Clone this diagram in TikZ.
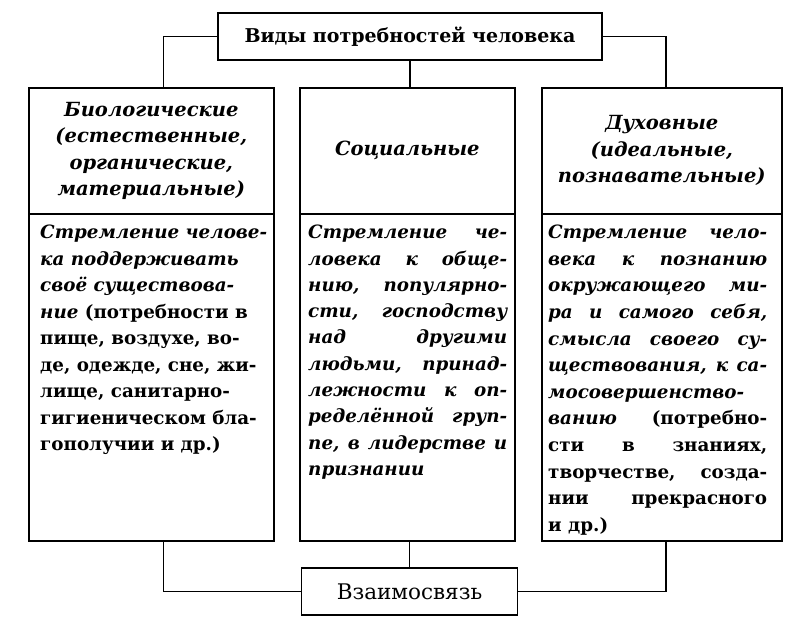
\documentclass[tikz,border=0pt]{standalone}
\usepackage{fontspec}
\setmainfont{DejaVu Serif}
\newlength\jw
\newcommand{\jline}[1]{\hbox to \jw{#1}}
\newcommand{\lline}[1]{\hbox to \jw{#1\hfil}}
\begin{document}
\begin{tikzpicture}[x=1pt,y=-1pt]
\tikzset{
  box/.style={draw, line width=1.6pt, inner sep=0pt},
  conn/.style={line width=1.5pt},
  hdr/.style={align=center, font=\fontsize{19.5}{26.5}\selectfont\bfseries\itshape},
  body/.style={inner sep=0pt, anchor=north west, font=\fontsize{18.3}{26.5}\selectfont\bfseries}
}
\useasboundingbox (0,0) rectangle (807,621);
\fill[white] (0,0) rectangle (807,621);
% title
\node[box, minimum width=384pt, minimum height=47pt, font=\fontsize{19}{26}\selectfont\bfseries] (top) at (410,36.5) {Виды потребностей человека};
% column headers
\node[box, minimum width=245pt, minimum height=126pt, anchor=north west] (c1h) at (28,87) {};
\node[box, minimum width=215pt, minimum height=126pt, anchor=north west] (c2h) at (299,87) {};
\node[box, minimum width=240pt, minimum height=126pt, anchor=north west] (c3h) at (541,87) {};
% column bodies
\node[box, minimum width=245pt, minimum height=327pt, anchor=north west] (c1b) at (28,213) {};
\node[box, minimum width=215pt, minimum height=327pt, anchor=north west] (c2b) at (299,213) {};
\node[box, minimum width=240pt, minimum height=327pt, anchor=north west] (c3b) at (541,213) {};
% header texts
\node[hdr] (t1h) at (c1h.center) {Биологические\\(естественные,\\органические,\\материальные)};
\node[hdr] (t2h) at (c2h.center) {Социальные};
\node[hdr] (t3h) at (c3h.center) {Духовные\\(идеальные,\\познавательные)};
% body texts
\node[body] (t1b) at (40,225) {\vtop{%
\hbox{\itshape Стремление челове-}
\hbox{\itshape ка поддерживать}
\hbox{\itshape своё существова-}
\hbox{\textit{ние} (потребности в}
\hbox{пище, воздухе, во-}
\hbox{де, одежде, сне, жи-}
\hbox{лище, санитарно-}
\hbox{гигиеническом бла-}
\hbox{гополучии и др.)}}};
\node[body, font=\fontsize{18.3}{26.3}\selectfont\bfseries\itshape] (t2b) at (308,225) {\setlength\jw{199pt}\vtop{%
\jline{Стремление че-}
\jline{ловека к обще-}
\jline{нию, популярно-}
\jline{сти, господству}
\jline{над другими}
\jline{людьми, принад-}
\jline{лежности к оп-}
\jline{ределённой груп-}
\jline{пе, в лидерстве и}
\lline{признании}}};
\node[body, font=\fontsize{18.3}{26.6}\selectfont\bfseries] (t3b) at (548,225) {\setlength\jw{219pt}\vtop{%
\jline{\itshape Стремление чело-}
\jline{\itshape века к познанию}
\jline{\itshape окружающего ми-}
\jline{\itshape ра и самого себя,}
\jline{\itshape смысла своего су-}
\jline{\itshape ществования, к са-}
\jline{\itshape мосовершенство-}
\jline{\textit{ванию} (потребно-}
\jline{сти в знаниях,}
\jline{творчестве, созда-}
\jline{нии прекрасного}
\lline{и др.)}}};
% bottom
\node[box, minimum width=216pt, minimum height=47pt, font=\fontsize{21.5}{26}\selectfont] (bot) at (409.5,591.5) {Взаимосвязь};
% connectors
\draw[conn] (top.west) -| ([xshift=12pt]c1h.north);
\draw[conn] (top.south) -- (top.south |- c2h.north);
\draw[conn] (top.east) -| ([xshift=4pt]c3h.north);
\draw[conn] (bot.west) -| ([xshift=12pt]c1b.south);
\draw[conn] (bot.north) -- (bot.north |- c2b.south);
\draw[conn] (bot.east) -| ([xshift=4pt]c3b.south);
\end{tikzpicture}
\end{document}
